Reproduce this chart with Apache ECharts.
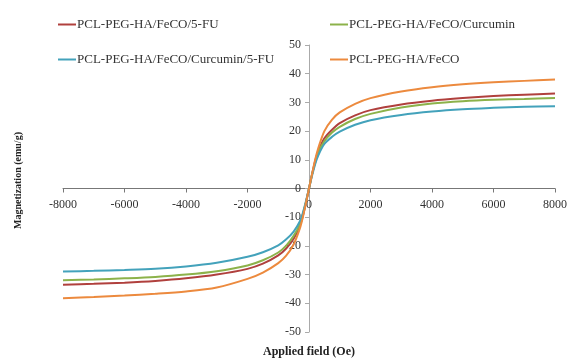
<!DOCTYPE html>
<html><head><meta charset="utf-8">
<script src="https://cdn.jsdelivr.net/npm/echarts@6/dist/echarts.min.js"></script>
<style>html,body{margin:0;padding:0;background:#fff}#c{width:568px;height:359px}</style>
</head><body><div id="c"></div>
<script>
var field = [-8000,-7000,-6000,-5000,-4000,-3000,-2000,-1500,-1000,-750,-500,-300,-200,-100,0,100,200,300,500,750,1000,1500,2000,3000,4000,5000,6000,7000,8000];
var fu5 =      [-33.5,-33.2,-32.8,-32.2,-31.3,-30,-28,-26.2,-23.3,-21,-17.5,-13,-9.5,-5,0,5,9.5,13,17.5,20.5,22.8,25.5,27.3,29.3,30.6,31.5,32.2,32.7,33.1];
var curcumin = [-32,-31.7,-31.3,-30.8,-30,-28.8,-26.8,-25,-22.3,-20,-16.5,-12.5,-9,-4.8,0,5,9,12.5,16.5,19.5,21.5,24.2,26,28.2,29.6,30.4,30.9,31.2,31.5];
var curcuminFu = [-28.9,-28.7,-28.4,-28,-27.2,-25.9,-23.8,-22.2,-19.8,-17.8,-15,-11.5,-8.5,-4.5,0,4.5,8.5,11.5,15.5,18,19.8,22.2,23.8,25.6,26.8,27.6,28.1,28.5,28.7];
var feco =     [-38.2,-37.8,-37.3,-36.7,-35.9,-34.5,-31.5,-29.3,-26,-23.5,-19.5,-14,-10,-5,0,5,10,14,20,24,26.5,29.5,31.5,33.8,35.3,36.3,37,37.5,38];
var names = ['PCL-PEG-HA/FeCO/5-FU','PCL-PEG-HA/FeCO/Curcumin','PCL-PEG-HA/FeCO/Curcumin/5-FU','PCL-PEG-HA/FeCO'];
var colors = ['#B0403D','#8CB24A','#43A2BB','#EC8A3E'];
var seriesVals = [fu5, curcumin, curcuminFu, feco];

function pairs(v){ return field.map(function(x,i){ return [x, v[i]]; }); }
var font = '"Liberation Serif","Times New Roman",serif';
var legendPos = [[53,13],[325,13],[53,48],[325,48]];
var legends = names.map(function(n,i){
  return {data:[n], left:legendPos[i][0], top:legendPos[i][1], icon:'rect', itemWidth:18, itemHeight:2,
    textStyle:{fontFamily:font, fontSize:13, color:'#333', padding:[0,0,0,-4]}, selectedMode:false};
});
var chart = echarts.init(document.getElementById('c'));
chart.setOption({
  animation:false,
  legend: legends,
  grid:{left:63, right:13, top:45, bottom:27, containLabel:false, outerBoundsMode:'none'},
  xAxis:{type:'value', min:-8000, max:8000, interval:2000, position:'bottom', offset:-143.5,
    name:'Applied field (Oe)', nameLocation:'middle', nameGap:157,
    nameTextStyle:{fontFamily:font, fontSize:12, fontWeight:'bold', color:'#222'},
    axisLine:{onZero:false, lineStyle:{color:'#777', width:1}},
    axisTick:{show:true, length:4, lineStyle:{color:'#777'}},
    axisLabel:{fontFamily:font, fontSize:12, color:'#333', margin:10, formatter:function(v){return String(v);}},
    splitLine:{show:false}},
  yAxis:{type:'value', min:-50, max:50, interval:10, position:'left', offset:-246,
    name:'Magnetization (emu/g)', nameLocation:'middle', nameGap:286, nameRotate:90,
    nameTextStyle:{fontFamily:font, fontSize:10, fontWeight:'bold', color:'#222', padding:[0,0,0,16]},
    axisLine:{show:true, onZero:false, lineStyle:{color:'#aaa', width:1}},
    axisTick:{show:true, length:4, lineStyle:{color:'#aaa'}},
    axisLabel:{fontFamily:font, fontSize:12, color:'#333', margin:8},
    splitLine:{show:false}},
  series: seriesVals.map(function(v,i){
    return {name:names[i], type:'line', data:pairs(v), showSymbol:false, smooth:0.3,
      lineStyle:{color:colors[i], width:2}, itemStyle:{color:colors[i]}};
  })
});
</script></body></html>
